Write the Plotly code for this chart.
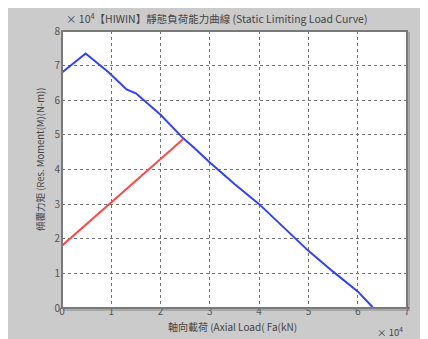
import plotly.graph_objects as go

blue_x = [0, 0.48, 0.95, 1.31, 1.5, 2.0, 2.46, 2.68, 3.0, 3.5, 4.0, 4.49, 5.0, 5.5, 6.0, 6.3]
blue_y = [6.8, 7.35, 6.8, 6.31, 6.2, 5.58, 4.9, 4.63, 4.2, 3.58, 3.0, 2.34, 1.65, 1.05, 0.48, 0.03]
red_x = [0, 0.5, 1.0, 1.5, 2.0, 2.46]
red_y = [1.8, 2.42, 3.05, 3.68, 4.3, 4.88]
x_ticks = [0, 1, 2, 3, 4, 5, 6, 7]
y_ticks = [0, 1, 2, 3, 4, 5, 6, 7, 8]

title_text = "【HIWIN】靜態負荷能力曲線 (Static Limiting Load Curve)"
x_title = "軸向載荷 (Axial Load( Fa(kN)"
y_title = "傾覆力矩 (Res. Moment(M)(N-m))"

FONT = "Noto Sans CJK TC, DejaVu Sans, sans-serif"
TXT = "#444444"

fig = go.Figure()
fig.add_trace(go.Scatter(x=blue_x, y=blue_y, mode="lines",
                         line=dict(color="#3040ff", width=2), showlegend=False))
fig.add_trace(go.Scatter(x=red_x, y=red_y, mode="lines",
                         line=dict(color="#ff4848", width=2), showlegend=False))

# page body has an 8px margin; figure fills the rest of the window
OFF = 8
W, H = 420, 331
L, R, T, B = 54, 21, 23, 31
pw, ph = W - L - R, H - T - B

def px(x):  # reference-window pixel -> paper coord
    return (x - OFF - L) / pw

def py(y):
    return (H - B - (y - OFF)) / ph

shapes = [
    dict(type="rect", xref="paper", yref="paper", x0=1, x1=px(410), y0=py(32), y1=py(311),
         fillcolor="#a8a8a8", line=dict(width=0), layer="below"),
    dict(type="rect", xref="paper", yref="paper", x0=px(63), x1=px(410), y0=0, y1=py(311),
         fillcolor="#a8a8a8", line=dict(width=0), layer="below"),
    dict(type="rect", xref="paper", yref="paper", x0=0, x1=1, y0=0, y1=1,
         fillcolor="rgba(0,0,0,0)", line=dict(color="#7a7a7a", width=2), layer="above"),
]

annotations = [
    dict(text="× 10<sup>4</sup>" + title_text, xref="paper", yref="paper", x=px(64), y=py(18),
         xanchor="left", yanchor="middle", showarrow=False, font=dict(family=FONT, size=10.5, color=TXT)),
    dict(text="× 10<sup>4</sup>", xref="paper", yref="paper", x=px(405), y=py(331),
         xanchor="right", yanchor="middle", showarrow=False, font=dict(family=FONT, size=9.5, color=TXT)),
    dict(text=x_title, xref="paper", yref="paper", x=px(232), y=py(326),
         xanchor="center", yanchor="middle", showarrow=False, font=dict(family=FONT, size=10, color=TXT)),
    dict(text=y_title, xref="paper", yref="paper", x=px(40), y=py(160), textangle=-90,
         xanchor="center", yanchor="middle", showarrow=False, font=dict(family=FONT, size=9.5, color=TXT)),
]

fig.update_layout(
    width=W, height=H,
    margin=dict(l=L, r=R, t=T, b=B, autoexpand=False),
    paper_bgcolor="#cbcbcb", plot_bgcolor="white",
    shapes=shapes, annotations=annotations,
    font=dict(family=FONT, color=TXT, size=10),
)
fig.update_xaxes(range=[0, 7], tickvals=x_ticks, showgrid=True, gridcolor="#707070", griddash="dot",
                 gridwidth=1, zeroline=False, showline=False, ticks="", ticklabelstandoff=-4,
                 automargin=False, tickfont=dict(size=10, color="#555555"))
fig.update_yaxes(range=[0, 8], tickvals=y_ticks, showgrid=True, gridcolor="#707070", griddash="dot",
                 gridwidth=1, zeroline=False, showline=False, ticks="", ticklabelstandoff=1,
                 automargin=False, tickfont=dict(size=10, color="#555555"))

fig.write_html("out.html")
